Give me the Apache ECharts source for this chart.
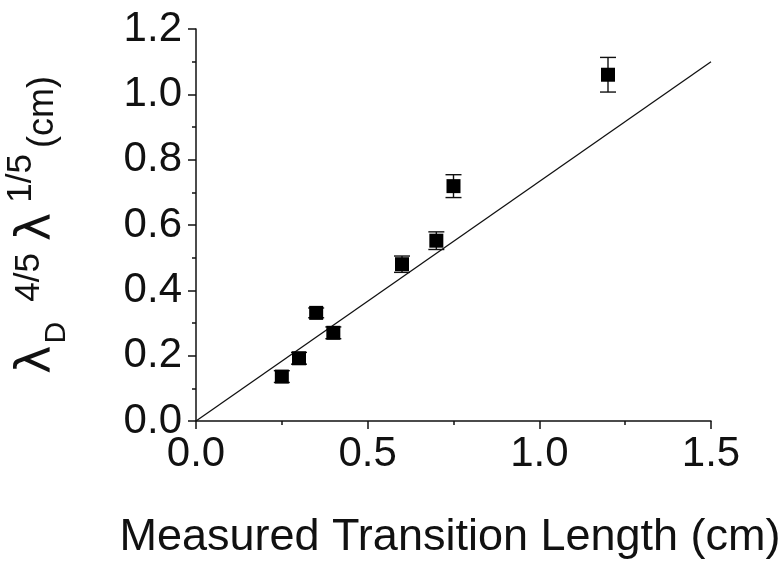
<!DOCTYPE html>
<html>
<head>
<meta charset="utf-8">
<script src="https://cdn.jsdelivr.net/npm/echarts@6/dist/echarts.min.js"></script>
<style>
  html, body { margin: 0; padding: 0; background: #fff; overflow: hidden; }
  #chart { width: 783px; height: 561px; }
</style>
</head>
<body>
<div id="chart"></div>
<script>
// Measured transition lengths (cm) and the scaled wavelength quantity (cm)
var measuredLength = [0.25, 0.30, 0.35, 0.40, 0.60, 0.70, 0.75, 1.20];
var scaledLambda   = [0.136, 0.192, 0.331, 0.270, 0.480, 0.552, 0.719, 1.060];
var lambdaError    = [0.018, 0.018, 0.015, 0.018, 0.025, 0.027, 0.035, 0.053];

// Reference line drawn through the origin
var lineX = [0, 1.5];
var lineY = [0, 1.1];

var xTicks = { min: 0, max: 1.5, step: 0.5 };
var yTicks = { min: 0, max: 1.2, step: 0.2 };

var points = measuredLength.map(function (x, i) { return [x, scaledLambda[i]]; });
var errPoints = measuredLength.map(function (x, i) { return [x, scaledLambda[i], lambdaError[i]]; });
var linePts = lineX.map(function (x, i) { return [x, lineY[i]]; });

var FONT = '"Liberation Sans", Arial, sans-serif';
var GREEK = '"DejaVu Sans", sans-serif';
var INK = '#111';

var chart = echarts.init(document.getElementById('chart'), null, {
  renderer: 'canvas', width: 783, height: 561
});

chart.setOption({
  animation: false,
  backgroundColor: '#fff',
  grid: {
    left: 196, right: 72, top: 29, bottom: 140,
    containLabel: false,
    outerBoundsMode: 'none'
  },
  xAxis: {
    type: 'value',
    min: xTicks.min, max: xTicks.max, interval: xTicks.step,
    name: 'Measured Transition Length (cm)',
    nameLocation: 'middle',
    nameGap: 94,
    nameTextStyle: { fontFamily: FONT, fontSize: 45, color: INK, padding: [0, 7, 0, 0] },
    axisLine: { show: true, onZero: false, lineStyle: { color: INK, width: 1.5 } },
    axisTick: { show: true, inside: false, length: 8, lineStyle: { color: INK, width: 1.5 } },
    minorTick: { show: true, splitNumber: 2, length: 4, lineStyle: { color: INK, width: 1.5 } },
    splitLine: { show: false },
    axisLabel: {
      fontFamily: FONT, fontSize: 42, color: INK, margin: 12,
      formatter: function (v) { return v.toFixed(1); }
    }
  },
  yAxis: {
    type: 'value',
    min: yTicks.min, max: yTicks.max, interval: yTicks.step,
    name: '{a|λ}{sub|D}{sup1|4/5}{a|λ}{sup2|1/5}{u|(cm)}',
    nameLocation: 'middle',
    nameRotate: 90,
    nameGap: 124,
    nameTextStyle: {
      color: INK,
      rich: {
        a:    { fontFamily: GREEK, fontSize: 48, color: INK, lineHeight: 68, verticalAlign: 'bottom', padding: [0, 2, 10, 0] },
        sub:  { fontFamily: FONT, fontSize: 30, color: INK, verticalAlign: 'bottom' },
        sup1: { fontFamily: FONT, fontSize: 35, color: INK, verticalAlign: 'top', padding: [8, 12, 0, 20] },
        sup2: { fontFamily: FONT, fontSize: 35, color: INK, verticalAlign: 'top', padding: [0, 6, 0, 8] },
        u:    { fontFamily: FONT, fontSize: 36, color: INK, verticalAlign: 'bottom', padding: [0, 0, 11, 0] }
      }
    },
    axisLine: { show: true, onZero: false, lineStyle: { color: INK, width: 1.5 } },
    axisTick: { show: true, inside: false, length: 8, lineStyle: { color: INK, width: 1.5 } },
    minorTick: { show: true, splitNumber: 2, length: 4, lineStyle: { color: INK, width: 1.5 } },
    splitLine: { show: false },
    axisLabel: {
      fontFamily: FONT, fontSize: 42, color: INK, margin: 14,
      formatter: function (v) { return v.toFixed(1); }
    }
  },
  series: [
    {
      type: 'line',
      data: linePts,
      symbol: 'none',
      lineStyle: { color: INK, width: 1.3 },
      z: 1
    },
    {
      type: 'custom',
      data: errPoints,
      z: 2,
      renderItem: function (params, api) {
        var x = api.value(0), y = api.value(1), e = api.value(2);
        var hi = api.coord([x, y + e]);
        var lo = api.coord([x, y - e]);
        var cap = 8;
        var st = { stroke: INK, lineWidth: 1.4 };
        return {
          type: 'group',
          children: [
            { type: 'line', shape: { x1: hi[0], y1: hi[1], x2: lo[0], y2: lo[1] }, style: st },
            { type: 'line', shape: { x1: hi[0] - cap, y1: hi[1], x2: hi[0] + cap, y2: hi[1] }, style: st },
            { type: 'line', shape: { x1: lo[0] - cap, y1: lo[1], x2: lo[0] + cap, y2: lo[1] }, style: st }
          ]
        };
      }
    },
    {
      type: 'scatter',
      data: points,
      symbol: 'rect',
      symbolSize: 14,
      itemStyle: { color: '#000', opacity: 1 },
      z: 3
    }
  ]
});
</script>
</body>
</html>
